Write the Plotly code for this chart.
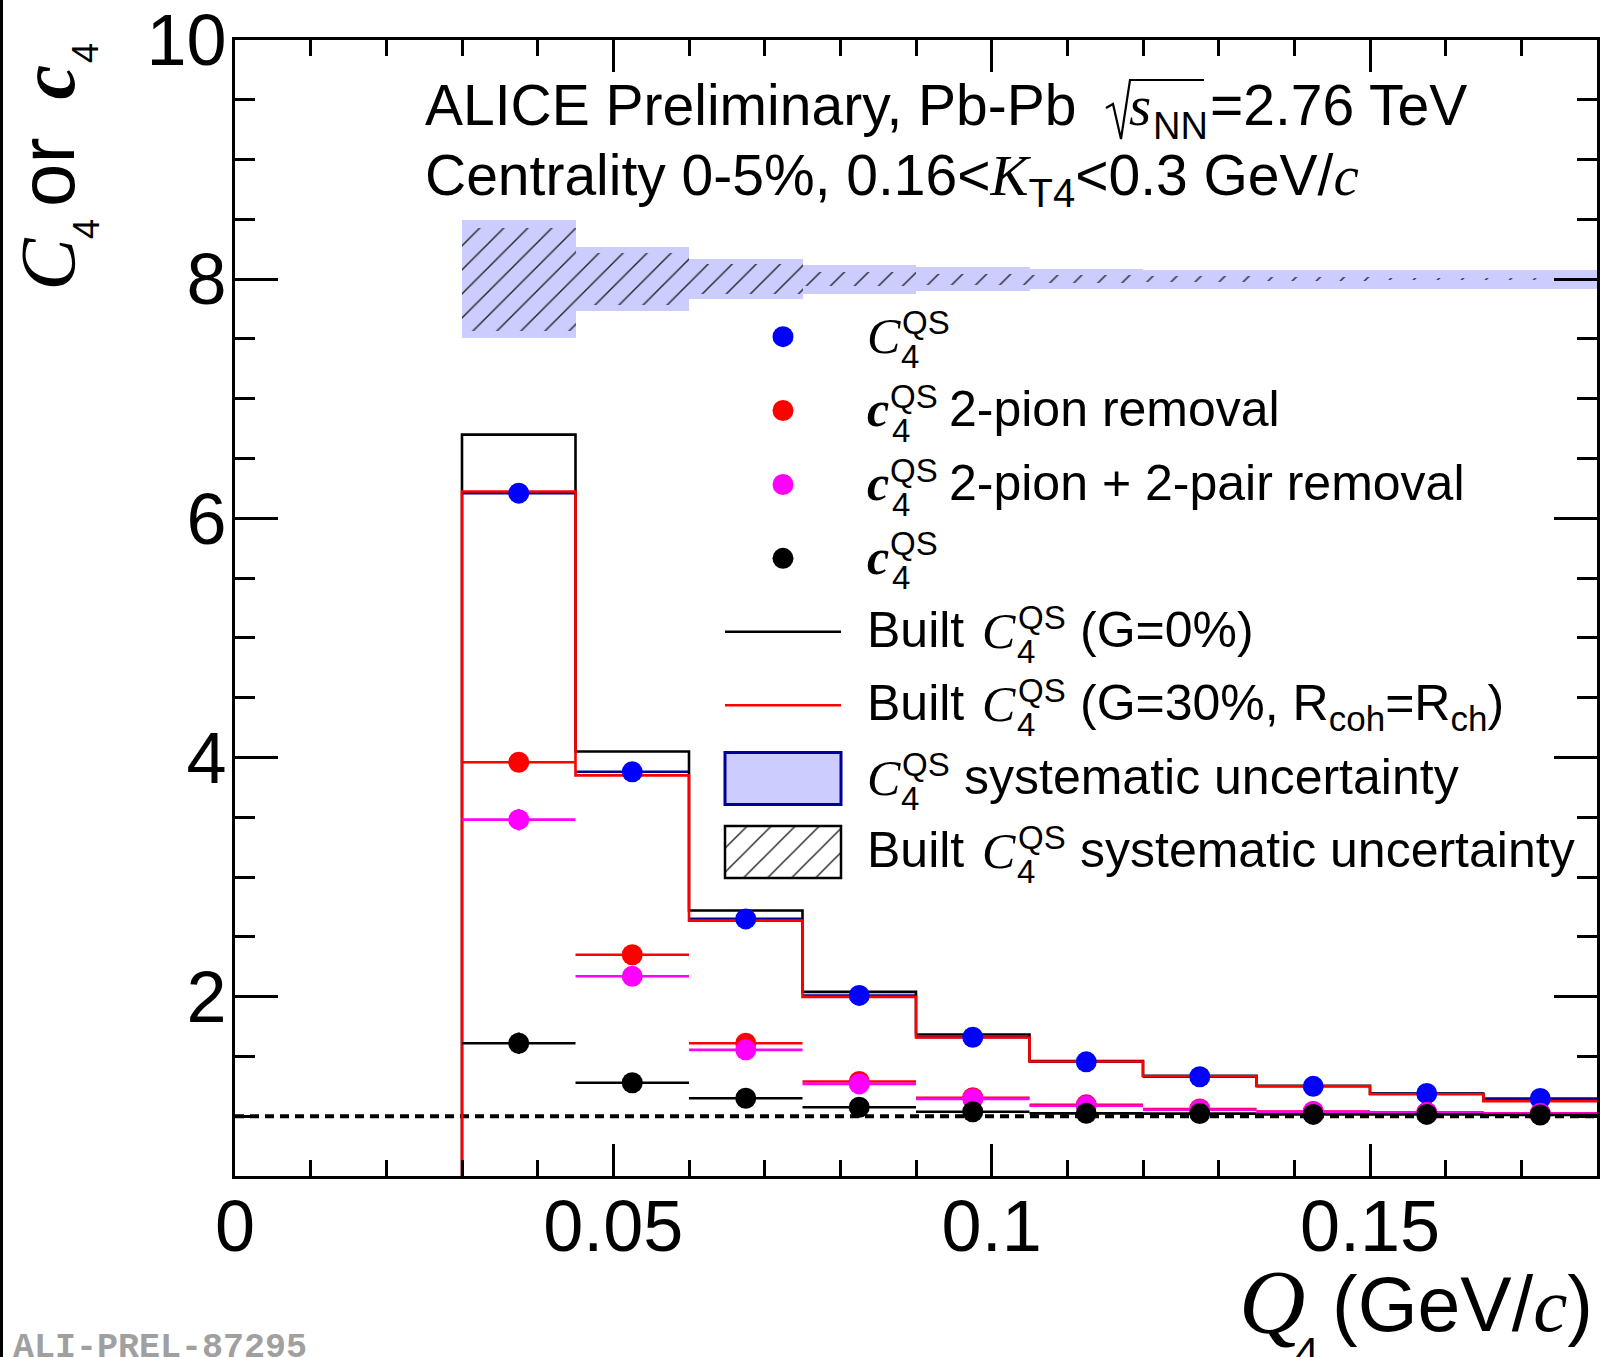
import plotly.graph_objects as go

# ---------------- data ----------------
bin_edges = [0.03, 0.045, 0.06, 0.075, 0.09, 0.105, 0.12, 0.135, 0.15, 0.165, 0.18]
q4_centers = [0.0375, 0.0525, 0.0675, 0.0825, 0.0975, 0.1125, 0.1275, 0.1425, 0.1575, 0.1725]

C4_QS = [6.21, 3.88, 2.65, 2.01, 1.66, 1.455, 1.33, 1.25, 1.19, 1.148]
C4_QS_err = [0.05, 0.03, 0.02, 0.01, 0.01, 0.006, 0.005, 0.004, 0.004, 0.003]

c4_2pion = [3.96, 2.35, 1.61, 1.29, 1.155, 1.095, 1.06, 1.04, 1.032, 1.025]
c4_2pion_err = [0.07, 0.03, 0.02, 0.01, 0.01, 0.006, 0.005, 0.004, 0.004, 0.003]

c4_2pion_2pair = [3.48, 2.17, 1.555, 1.27, 1.145, 1.087, 1.054, 1.037, 1.03, 1.022]
c4_2pion_2pair_err = [0.09, 0.04, 0.02, 0.01, 0.01, 0.006, 0.005, 0.004, 0.004, 0.003]

c4_QS = [1.61, 1.28, 1.15, 1.075, 1.037, 1.024, 1.022, 1.015, 1.015, 1.01]
c4_QS_err = [0.09, 0.04, 0.02, 0.01, 0.01, 0.006, 0.005, 0.004, 0.004, 0.003]

built_G0 = [6.70, 4.05, 2.72, 2.04, 1.683, 1.462, 1.338, 1.255, 1.188, 1.13]
built_G30 = [6.224, 3.85, 2.636, 1.998, 1.658, 1.457, 1.334, 1.251, 1.184, 1.126]

C4_syst = [0.495, 0.27, 0.168, 0.12, 0.098, 0.085, 0.08, 0.08, 0.08, 0.08]
built_syst = [0.43, 0.22, 0.125, 0.06, 0.045, 0.035, 0.026, 0.014, 0.01, 0.006]
band_center = 8.0  # systematic bands are displayed around 8

x_ticks = [0, 0.05, 0.1, 0.15]
x_ticklabels = ["0", "0.05", "0.1", "0.15"]
y_ticks = [2, 4, 6, 8, 10]
y_ticklabels = ["2", "4", "6", "8", "10"]

# ---------------- style ----------------
W, H = 1602, 1357
L, R, T, B = 235, 1597, 40, 1176   # plot frame in pixels
SANS = "Liberation Sans"
SERIF = "Liberation Serif"
MONO = "Liberation Mono"
ASC = {SANS: 0.905, SERIF: 0.891, MONO: 0.833}
BLUE, RED, MAG, BLACK = "#0000ff", "#ff0000", "#ff00ff", "#000000"
NAVY = "#000099"
BAND = "#ccccff"
LW = 2.6
MS = 21

bin_width = [bin_edges[i + 1] - bin_edges[i] for i in range(len(q4_centers))]
half_width = [w / 2 for w in bin_width]


def px_x(x):
    return (x - L) / (R - L)


def px_y(y):
    return (B - y) / (B - T)


annotations = []
shapes = []


def txt(x, base, text, size, family=SANS, anchor="left", color="black", asc=None):
    a = ASC[family] if asc is None else asc
    annotations.append(dict(
        x=px_x(x), y=px_y(base - a * size), xref="paper", yref="paper",
        xanchor=anchor, yanchor="top", text=text, showarrow=False,
        font=dict(family=family, size=size, color=color), borderpad=0))


def vtxt(xbase, ystart, text, size, family=SANS, asc=None):
    # text rotated by -90 degrees, reading upward from ystart
    a = ASC[family] if asc is None else asc
    annotations.append(dict(
        x=px_x(xbase - a * size), y=px_y(ystart), xref="paper", yref="paper",
        xanchor="left", yanchor="bottom", textangle=-90, text=text, showarrow=False,
        font=dict(family=family, size=size, color="black"), borderpad=0))


def serif(s, bold=False):
    inner = "<i>%s</i>" % s
    if bold:
        inner = "<b>%s</b>" % inner
    return '<span style="font-family:Liberation Serif">%s</span>' % inner


fig = go.Figure()

# ---- systematic bands (displayed around 8) ----
fig.add_trace(go.Bar(
    x=q4_centers, base=[band_center - u for u in C4_syst], y=[2 * u for u in C4_syst],
    width=bin_width, marker=dict(color=BAND, line=dict(width=0)), hoverinfo="skip"))
fig.add_trace(go.Bar(
    x=q4_centers, base=[band_center - u for u in built_syst], y=[2 * u for u in built_syst],
    width=bin_width,
    marker=dict(color="rgba(0,0,0,0)", line=dict(width=0),
                pattern=dict(shape="/", fgcolor="#202020", bgcolor="rgba(0,0,0,0)",
                             size=17, solidity=0.08, fillmode="replace")),
    hoverinfo="skip"))

# ---- C4 horizontal bin lines (navy) ----
fig.add_trace(go.Scatter(
    x=q4_centers, y=C4_QS, mode="markers", marker=dict(size=1, color="rgba(0,0,0,0)"),
    error_x=dict(type="data", array=half_width, color=NAVY, thickness=LW, width=0),
    hoverinfo="skip"))

# ---- built histograms ----
x_step = [bin_edges[0]] + bin_edges
fig.add_trace(go.Scatter(x=x_step, y=[0.0] + built_G0 + [built_G0[-1]], mode="lines",
                         line=dict(color=BLACK, width=LW, shape="hv"), hoverinfo="skip"))
fig.add_trace(go.Scatter(x=x_step, y=[0.0] + built_G30 + [built_G30[-1]], mode="lines",
                         line=dict(color=RED, width=LW, shape="hv"), hoverinfo="skip"))


# ---- data points ----
def points(y, err, color, xerr=True):
    fig.add_trace(go.Scatter(
        x=q4_centers, y=y, mode="markers",
        marker=dict(size=MS, color=color, line=dict(width=0)),
        error_y=dict(type="data", array=err, color=color, thickness=LW, width=0),
        error_x=dict(type="data", array=half_width, color=color, thickness=LW, width=0,
                     visible=xerr),
        hoverinfo="skip"))


points(C4_QS, C4_QS_err, BLUE, xerr=False)
points(c4_2pion, c4_2pion_err, RED)
points(c4_2pion_2pair, c4_2pion_2pair_err, MAG)
points(c4_QS, c4_QS_err, BLACK)

# ---- reference line at 1 ----
shapes.append(dict(type="line", xref="x", yref="y", x0=0, x1=0.18, y0=1, y1=1,
                   line=dict(color="black", width=4, dash="9px,6px"), layer="below"))

# ---------------- legend (drawn by hand) ----------------
rows = [336.7, 410.5, 484.5, 558.3, 631.7, 705.2, 778.6, 852.0]
key_x0, key_x1 = 725, 841
key_xc = (key_x0 + key_x1) / 2
fig.add_trace(go.Scatter(
    x=[key_xc] * 4, y=rows[:4], xaxis="x2", yaxis="y2", mode="markers",
    marker=dict(size=MS, color=[BLUE, RED, MAG, BLACK]), hoverinfo="skip"))
for yy, col in ((rows[4], BLACK), (rows[5], RED)):
    shapes.append(dict(type="line", xref="paper", yref="paper",
                       x0=px_x(key_x0), x1=px_x(key_x1), y0=px_y(yy), y1=px_y(yy),
                       line=dict(color=col, width=LW)))
bh = 26
shapes.append(dict(type="rect", xref="paper", yref="paper",
                   x0=px_x(key_x0), x1=px_x(key_x1), y0=px_y(rows[6] - bh), y1=px_y(rows[6] + bh),
                   fillcolor=BAND, line=dict(color=NAVY, width=3)))
fig.add_trace(go.Bar(
    x=[key_xc], base=[rows[7] - bh], y=[2 * bh], width=[key_x1 - key_x0],
    xaxis="x2", yaxis="y2",
    marker=dict(color="rgba(0,0,0,0)", line=dict(width=0),
                pattern=dict(shape="/", fgcolor="#202020", bgcolor="rgba(0,0,0,0)",
                             size=17, solidity=0.08, fillmode="replace")),
    hoverinfo="skip"))
shapes.append(dict(type="rect", xref="paper", yref="paper",
                   x0=px_x(key_x0), x1=px_x(key_x1), y0=px_y(rows[7] - bh), y1=px_y(rows[7] + bh),
                   line=dict(color="black", width=2.5)))

FS = 50      # legend text size
SS = 33      # script size
tx = 866


def qs4(x, row, xsub=None):
    txt(x, row - 4, "QS", SS)
    txt(x if xsub is None else xsub, row + 30, "4", SS)


# row 1
txt(tx, rows[0] + 14.5, serif("C"), FS, SERIF)
qs4(901, rows[0], 900)
# rows 2-4
for r, rest in ((rows[1], "2-pion removal"), (rows[2], "2-pion + 2-pair removal"), (rows[3], "")):
    txt(tx, r + 14.5, serif("c", bold=True), FS, SERIF)
    qs4(889, r, 891)
    if rest:
        txt(948, r + 14.5, rest, FS)
# rows 5, 6, 8 (Built C4)
for r, rest in ((rows[4], "(G=0%)"),
                (rows[5], "(G=30%, R<sub>coh</sub>=R<sub>ch</sub>)"),
                (rows[7], "systematic uncertainty")):
    txt(tx, r + 14.5, "Built", FS)
    txt(981, r + 14.5, serif("C"), FS, SERIF)
    qs4(1017, r, 1016)
    txt(1079, r + 14.5, rest, FS)
# row 7
txt(tx, rows[6] + 14.5, serif("C"), FS, SERIF)
qs4(901, rows[6], 900)
txt(963, rows[6] + 14.5, "systematic uncertainty", FS)

# ---------------- header ----------------
HS = 57
txt(424, 124, "ALICE Preliminary, Pb-Pb", HS)
rad = [(1106, 108), (1113, 104), (1121, 139), (1130, 80), (1204, 80)]
shapes.append(dict(type="path", xref="paper", yref="paper",
                   path="M " + " L ".join("%f,%f" % (px_x(a), px_y(b)) for a, b in rad),
                   line=dict(color="black", width=2.2)))
txt(1128, 124, serif("s"), HS, SERIF)
txt(1152, 138, "NN", 38)
txt(1209, 124, "=2.76 TeV", HS)
txt(424, 194, "Centrality 0-5%, 0.16&lt;" + serif("K") + "<sub>T4</sub>&lt;0.3 GeV/" + serif("c"), HS)

# ---------------- axis titles ----------------
YS = 78
vtxt(72, 292, serif("C"), YS, SERIF)
vtxt(97, 240, "4", 36)
vtxt(72, 208, "or", YS)
vtxt(72, 101, serif("c", bold=True), YS, SERIF)
vtxt(97, 64, "4", 36)

txt(1238, 1332, serif("Q"), 92, SERIF)
txt(1294, 1366, "4", 43)
txt(1594, 1330, "(GeV/" + serif("c") + ")", 77, anchor="right")

# preliminary tag
txt(12, 1356, "<b>ALI-PREL-87295</b>", 35, MONO, color="#a0a0a0")

# page border on the left
shapes.append(dict(type="line", xref="paper", yref="paper", x0=px_x(1.5), x1=px_x(1.5),
                   y0=px_y(0), y1=px_y(H), line=dict(color="black", width=3)))

axis_common = dict(showgrid=False, zeroline=False, showline=True, linewidth=3, linecolor="black",
                   mirror="ticks", ticks="inside", tickcolor="black", tickwidth=2.5,
                   automargin=False, tickfont=dict(family=SANS, size=72, color="black"))
fig.update_layout(
    width=W, height=H,
    margin=dict(l=L, r=W - R, t=T, b=H - B, autoexpand=False),
    paper_bgcolor="white", plot_bgcolor="white",
    showlegend=False, barmode="overlay", bargap=0,
    xaxis=dict(range=[0, 0.18], tickmode="array", tickvals=x_ticks, ticktext=x_ticklabels,
               ticklen=32, ticklabelstandoff=-14,
               minor=dict(tick0=0, dtick=0.01, ticks="inside", ticklen=16, tickwidth=2.5,
                          tickcolor="black", showgrid=False),
               **axis_common),
    yaxis=dict(range=[0.5, 10], tickmode="array", tickvals=y_ticks, ticktext=y_ticklabels,
               ticklen=43, ticklabelstandoff=-9,
               minor=dict(tick0=0, dtick=0.5, ticks="inside", ticklen=20, tickwidth=2.5,
                          tickcolor="black", showgrid=False),
               **axis_common),
    xaxis2=dict(overlaying="x", range=[L, R], visible=False, fixedrange=True),
    yaxis2=dict(overlaying="y", range=[B, T], visible=False, fixedrange=True),
    annotations=annotations, shapes=shapes,
)

fig.write_html("out.html",
               config={"displayModeBar": False},
               post_script="document.body.style.margin='0px';"
                           "document.body.style.overflow='hidden';")
